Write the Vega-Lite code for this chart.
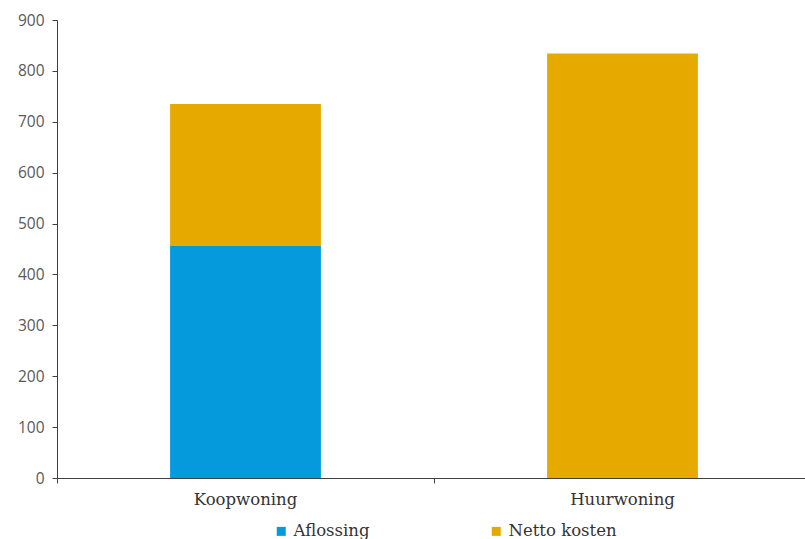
{
  "$schema": "https://vega.github.io/schema/vega-lite/v6.json",
  "width": 754,
  "height": 458,
  "autosize": "none",
  "padding": {"left": 57, "top": 20, "right": 0, "bottom": 61},
  "background": "white",
  "config": {"view": {"stroke": null}},
  "data": {
    "values": [
      {"woning": "Koopwoning", "type": "Aflossing", "value": 456},
      {"woning": "Koopwoning", "type": "Netto kosten", "value": 279},
      {"woning": "Huurwoning", "type": "Netto kosten", "value": 834}
    ]
  },
  "mark": {"type": "bar"},
  "encoding": {
    "x": {
      "field": "woning",
      "type": "nominal",
      "sort": ["Koopwoning", "Huurwoning"],
      "scale": {"paddingInner": 0.6, "paddingOuter": 0.3},
      "axis": {
        "title": null,
        "labelAngle": 0,
        "labelFont": "DejaVu Serif",
        "labelFontSize": 16.5,
        "labelColor": "#333333",
        "labelPadding": 8,
        "domainColor": "#404040",
        "tickColor": "#404040",
        "tickSize": 5,
        "bandPosition": -0.748
      }
    },
    "y": {
      "field": "value",
      "type": "quantitative",
      "stack": "zero",
      "scale": {"domain": [0, 900], "nice": false},
      "axis": {
        "title": null,
        "values": [0, 100, 200, 300, 400, 500, 600, 700, 800, 900],
        "grid": false,
        "labelFont": "Open Sans",
        "labelFontSize": 15.5,
        "labelColor": "#595959",
        "labelPadding": 8,
        "domainColor": "#404040",
        "tickColor": "#404040",
        "tickSize": 5
      }
    },
    "order": {"field": "type", "sort": "ascending"},
    "color": {
      "field": "type",
      "type": "nominal",
      "scale": {"domain": ["Aflossing", "Netto kosten"], "range": ["#049ADB", "#E6A900"]},
      "legend": {
        "title": null,
        "orient": "none",
        "legendX": 216,
        "legendY": 503,
        "direction": "horizontal",
        "symbolType": "square",
        "symbolSize": 81,
        "symbolStrokeWidth": 0,
        "labelFont": "DejaVu Serif",
        "labelFontSize": 16.5,
        "labelColor": "#333333",
        "labelOffset": 4,
        "columnPadding": 118
      }
    }
  }
}
